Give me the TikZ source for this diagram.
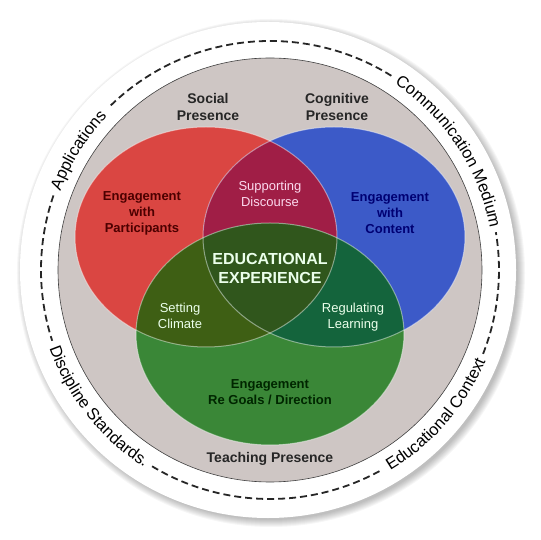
\documentclass[tikz,border=0pt]{standalone}
\usepackage{fontspec}
\setmainfont{Liberation Sans}
\usetikzlibrary{decorations.text}

\definecolor{discgrey}{HTML}{CEC6C4}
\definecolor{socialred}{HTML}{DA4642}
\definecolor{cogblue}{HTML}{3C5AC8}
\definecolor{teachgreen}{HTML}{3A8737}
\definecolor{redblue}{HTML}{A01E46}
\definecolor{redgreen}{HTML}{3E5F14}
\definecolor{bluegreen}{HTML}{14643C}
\definecolor{allthree}{HTML}{30561C}

\newcommand{\ringfont}{\fontsize{16.5}{18}\selectfont}
\def\redset{(-64,33) ellipse [x radius=131pt, y radius=110pt]}
\def\blueset{(64,33) ellipse [x radius=131pt, y radius=110pt]}
\def\greenset{(0,-64) ellipse [x radius=134pt, y radius=111pt]}

\tikzset{
  presence/.style={align=center, text=black!85, font=\fontsize{14}{17}\selectfont\bfseries},
  engage/.style={align=center, font=\fontsize{13}{16}\selectfont\bfseries},
  overlap/.style={align=center, font=\fontsize{13}{15.5}\selectfont},
  ringtext/.style={decorate, decoration={text along path, text align=center, text={|\ringfont|#1}}},
  ringdash/.style={line width=1.8pt, dash pattern=on 7pt off 4pt, black!85}
}

\begin{document}
\begin{tikzpicture}[x=1pt, y=1pt]
\useasboundingbox (-270,-270) rectangle (270,270);

% soft shadow under the white disc
\foreach \i in {1,...,8}
  \fill[black, opacity=0.035] (1,-3) circle (246pt+\i pt);
\fill[white] (-2,0) circle (248pt);

% grey disc
\filldraw[fill=discgrey, draw=black!75, line width=0.6pt] (0,0) circle (212pt);

% dashed ring, broken where the words sit
\draw[ringdash] (58:229pt) arc[start angle=58, end angle=135, radius=229pt];
\draw[ringdash] (161:229pt) arc[start angle=161, end angle=198, radius=229pt];
\draw[ringdash] (239:229pt) arc[start angle=239, end angle=299.5, radius=229pt];
\draw[ringdash] (338.5:229pt) arc[start angle=338.5, end angle=369.5, radius=229pt];

% words on the ring
\path[ringtext=Applications] (183:224pt) arc[start angle=183, end angle=113, radius=224pt];
\path[ringtext=Communication Medium] (70:224pt) arc[start angle=70, end angle=-3, radius=224pt];
\path[ringtext=Educational Context] (-78:234pt) arc[start angle=-78, end angle=-4, radius=234pt];
\path[ringtext=Discipline Standards.] (180:234pt) arc[start angle=180, end angle=257, radius=234pt];

% the three presences
\fill[socialred] \redset;
\fill[cogblue] \blueset;
\fill[teachgreen] \greenset;
\begin{scope}
  \clip \redset;
  \fill[redblue] \blueset;
  \fill[redgreen] \greenset;
\end{scope}
\begin{scope}
  \clip \blueset;
  \fill[bluegreen] \greenset;
\end{scope}
\begin{scope}
  \clip \redset;
  \clip \blueset;
  \fill[allthree] \greenset;
\end{scope}
\draw[white, opacity=0.45, line width=1pt] \redset;
\draw[white, opacity=0.45, line width=1pt] \blueset;
\draw[white, opacity=0.45, line width=1pt] \greenset;

% labels
\node[presence] (social) at (-62,163) {Social\\Presence};
\node[presence] (cognitive) at (67,163) {Cognitive\\Presence};
\node[presence] (teaching) at (0,-189) {Teaching Presence};
\node[engage, text=red!30!black] (participants) at (-128,57) {Engagement\\with\\Participants};
\node[engage, text=blue!45!black] (content) at (120,57) {Engagement\\with\\Content};
\node[engage, text=green!15!black] (goals) at (0,-122) {Engagement\\Re Goals / Direction};
\node[overlap, text=magenta!15!white] (discourse) at (0,76) {Supporting\\Discourse};
\node[overlap, text=green!8!white] (climate) at (-90,-46) {Setting\\Climate};
\node[overlap, text=green!8!white] (learning) at (83,-47) {Regulating\\Learning};
\node[align=center, text=green!8!white, font=\fontsize{16}{19}\selectfont\bfseries] (experience) at (0,2) {EDUCATIONAL\\EXPERIENCE};
\end{tikzpicture}
\end{document}
